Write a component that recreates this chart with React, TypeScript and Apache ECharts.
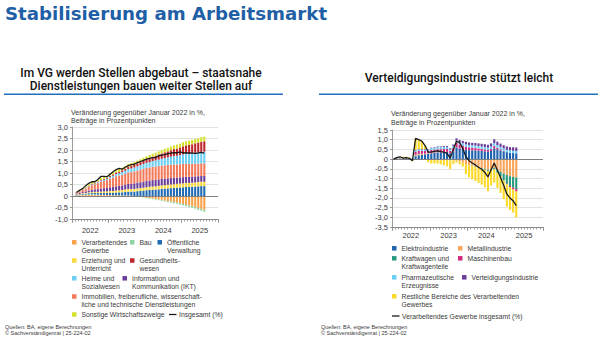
import React, { useEffect, useRef } from 'react';
import * as echarts from 'echarts';

const YEARS = ['2022', '2023', '2024', '2025'];
const MONTH_NUMS = ['01', '02', '03', '04', '05', '06', '07', '08', '09', '10', '11', '12'];
const MONTHS = YEARS.flatMap((y) => MONTH_NUMS.map((m) => `${y}-${m}`));

// ---------- Left chart: Feb 2022 - Aug 2025 (Jan 2022 empty) ----------
const L_VERARB = [0.02,0.03,0.04,0.04,0.05,0.05,0.05,0.05,0.04,0.04,0.04,0.04,0.03,0.03,0.03,0.02,0.02,0.02,0.01,0.0,-0.01,-0.03,-0.05,-0.08,-0.09,-0.11,-0.13,-0.15,-0.17,-0.2,-0.22,-0.24,-0.27,-0.29,-0.32,-0.35,-0.38,-0.41,-0.44,-0.48,-0.52,-0.56,-0.6];
const L_BAU = [0.01,0.01,0.02,0.02,0.02,0.02,0.02,0.01,0.01,0.01,0.0,0.0,0.0,-0.01,-0.01,-0.01,-0.01,-0.01,-0.01,-0.02,-0.02,-0.02,-0.02,-0.02,-0.03,-0.03,-0.03,-0.03,-0.04,-0.04,-0.04,-0.05,-0.05,-0.05,-0.06,-0.06,-0.06,-0.07,-0.07,-0.07,-0.08,-0.08,-0.08];
const L_OEFF = [0.02,0.03,0.03,0.04,0.05,0.06,0.06,0.07,0.08,0.08,0.09,0.10,0.11,0.12,0.13,0.14,0.16,0.17,0.18,0.19,0.21,0.22,0.23,0.25,0.26,0.27,0.28,0.29,0.31,0.32,0.33,0.34,0.35,0.36,0.37,0.38,0.39,0.39,0.40,0.41,0.42,0.43,0.43];
const L_ERZ = [0.02,0.02,0.03,0.03,0.04,0.04,0.05,0.05,0.06,0.07,0.07,0.08,0.08,0.09,0.09,0.10,0.10,0.11,0.11,0.12,0.12,0.12,0.13,0.13,0.14,0.14,0.14,0.15,0.15,0.15,0.16,0.16,0.16,0.17,0.17,0.17,0.18,0.18,0.18,0.18,0.19,0.19,0.19];
const L_IKT = [0.03,0.04,0.05,0.07,0.08,0.10,0.11,0.12,0.13,0.14,0.15,0.16,0.17,0.18,0.19,0.20,0.21,0.22,0.23,0.24,0.25,0.26,0.26,0.27,0.27,0.28,0.28,0.28,0.28,0.28,0.28,0.28,0.28,0.27,0.27,0.27,0.27,0.26,0.26,0.26,0.25,0.25,0.25];
const L_IMMO = [0.05,0.08,0.10,0.13,0.16,0.20,0.22,0.26,0.30,0.32,0.34,0.38,0.41,0.44,0.45,0.46,0.48,0.50,0.51,0.52,0.53,0.55,0.56,0.57,0.57,0.58,0.58,0.58,0.58,0.58,0.58,0.58,0.58,0.57,0.57,0.57,0.57,0.56,0.56,0.56,0.55,0.55,0.55];
const L_HEIME = [0.01,0.01,0.01,0.02,0.02,0.03,0.03,0.04,0.05,0.05,0.06,0.07,0.08,0.09,0.10,0.12,0.13,0.15,0.16,0.17,0.18,0.19,0.21,0.22,0.23,0.25,0.27,0.28,0.30,0.32,0.33,0.35,0.37,0.38,0.40,0.42,0.43,0.45,0.46,0.47,0.49,0.50,0.51];
const L_GESUND = [0.01,0.01,0.01,0.01,0.02,0.02,0.02,0.03,0.03,0.04,0.04,0.05,0.06,0.07,0.07,0.08,0.09,0.10,0.11,0.12,0.13,0.14,0.15,0.17,0.18,0.19,0.20,0.22,0.23,0.25,0.26,0.28,0.30,0.31,0.33,0.35,0.36,0.38,0.39,0.41,0.42,0.44,0.45];
const L_SONST = [0.02,0.04,0.05,0.06,0.07,0.08,0.07,0.08,0.10,0.09,0.08,0.10,0.11,0.12,0.12,0.11,0.12,0.12,0.12,0.12,0.12,0.12,0.12,0.12,0.13,0.13,0.13,0.14,0.14,0.15,0.15,0.16,0.16,0.17,0.17,0.18,0.18,0.18,0.19,0.19,0.19,0.20,0.20];
const L_TOTAL = [0.15,0.25,0.32,0.45,0.55,0.62,0.62,0.72,0.85,0.85,0.84,0.95,1.05,1.15,1.2,1.17,1.25,1.32,1.36,1.38,1.45,1.5,1.55,1.6,1.64,1.67,1.67,1.75,1.78,1.8,1.84,1.86,1.88,1.88,1.92,1.88,1.87,1.87,1.86,1.85,1.87,1.9,1.86];

// ---------- Right chart: Jan 2022 - Apr 2025 ----------
const R_ELEKTRO = [0,0.03,0.04,0.03,0.04,0.03,0.03,0.15,0.2,0.22,0.25,0.28,0.3,0.32,0.34,0.35,0.36,0.37,0.3,0.4,0.6,0.55,0.52,0.48,0.46,0.45,0.44,0.43,0.42,0.4,0.38,0.42,0.55,0.5,0.45,0.4,0.36,0.33,0.31,0.3];
const R_METALL = [0,0.01,0.02,0.01,0.01,0.0,-0.02,0.05,0.05,0.04,0.03,0.02,0.02,0.01,0.0,-0.01,-0.02,-0.03,-0.05,-0.06,-0.08,-0.12,-0.18,-0.25,-0.3,-0.33,-0.38,-0.42,-0.46,-0.5,-0.55,-0.5,-0.45,-0.55,-0.65,-0.75,-0.82,-0.88,-0.92,-0.95];
const R_KFZ = [0,0.01,0.0,-0.03,-0.03,-0.04,-0.05,0.02,0.02,0.01,0.0,0.0,0.01,0.01,0.01,0.0,0.0,0.0,-0.01,0.0,0.01,0.0,0.0,-0.01,-0.01,-0.02,-0.02,-0.03,-0.04,-0.05,-0.06,-0.05,-0.08,-0.15,-0.25,-0.35,-0.45,-0.5,-0.55,-0.6];
const R_MASCH = [0,0.01,0.02,0.01,0.01,0.01,0.0,0.15,0.15,0.15,0.14,0.12,0.14,0.15,0.16,0.16,0.16,0.15,0.12,0.18,0.22,0.2,0.18,0.16,0.15,0.14,0.13,0.12,0.11,0.1,0.09,0.1,0.12,0.08,0.05,0.02,-0.03,-0.06,-0.09,-0.12];
const R_PHARMA = [0,0.01,0.01,0.01,0.01,0.01,0.01,0.08,0.08,0.08,0.08,0.08,0.09,0.1,0.1,0.1,0.1,0.1,0.09,0.1,0.12,0.12,0.12,0.12,0.12,0.12,0.12,0.12,0.12,0.12,0.12,0.13,0.15,0.14,0.13,0.13,0.12,0.12,0.12,0.12];
const R_VERTEID = [0,0.0,0.0,0.0,0.0,0.0,0.0,0.02,0.02,0.02,0.02,0.02,0.03,0.03,0.04,0.04,0.05,0.05,0.05,0.07,0.12,0.12,0.12,0.13,0.13,0.13,0.14,0.14,0.14,0.15,0.15,0.16,0.2,0.18,0.17,0.17,0.17,0.17,0.18,0.18];
const R_REST = [0,0.01,0.03,0.06,0.05,0.03,-0.05,0.6,0.48,0.41,0.18,-0.16,-0.23,-0.22,-0.23,-0.26,-0.29,-0.34,-0.45,-0.19,-0.1,-0.15,-0.21,-0.51,-0.63,-0.69,-0.73,-0.78,-0.81,-0.9,-1.05,-0.81,-0.69,-0.78,-0.85,-0.97,-1.15,-1.18,-1.2,-1.33];
const R_TOTAL = [0,0.08,0.12,0.05,0.08,0.04,-0.08,1.07,1.0,0.93,0.7,0.36,0.36,0.4,0.42,0.38,0.36,0.3,0.05,0.5,0.92,0.85,0.55,0.12,-0.08,-0.2,-0.3,-0.42,-0.52,-0.68,-0.92,-0.55,-0.2,-0.58,-0.95,-1.35,-1.8,-2.0,-2.15,-2.4];

const FONT = 'Liberation Sans, Arial, sans-serif';
const TXT = '#3a3a3a';
const LINE_COLOR = '#1a1a1a';
const LH = 8;
const LEG_FS = 6.8;

const fmtNum = (v: number) => (v === 0 ? '0' : v.toFixed(1).replace('.', ','));

export default function App() {
  const ref = useRef<HTMLDivElement>(null);
  useEffect(() => {
    document.body.style.margin = '0';
    if (!ref.current) return;
    const chart = echarts.init(ref.current, undefined, { renderer: 'svg' });

    const leftBars = [
      { name: 'Verarbeitendes Gewerbe', data: L_VERARB, color: '#F7A24B' },
      { name: 'Bau', data: L_BAU, color: '#8ED3A0' },
      { name: 'Öffentliche Verwaltung', data: L_OEFF, color: '#1F6AB3' },
      { name: 'Erziehung und Unterricht', data: L_ERZ, color: '#F9D93B' },
      { name: 'Information und Kommunikation (IKT)', data: L_IKT, color: '#6A3D9A' },
      { name: 'Immobilien, freiberufliche, wissenschaftliche und technische Dienstleistungen', data: L_IMMO, color: '#F27A5A' },
      { name: 'Heime und Sozialwesen', data: L_HEIME, color: '#6DCFF6' },
      { name: 'Gesundheitswesen', data: L_GESUND, color: '#C0272D' },
      { name: 'Sonstige Wirtschaftszweige', data: L_SONST, color: '#D4E02B' },
    ];
    const rightBars = [
      { name: 'Elektroindustrie', data: R_ELEKTRO, color: '#1F63AE' },
      { name: 'Metallindustrie', data: R_METALL, color: '#F9A65A' },
      { name: 'Kraftwagen und Kraftwagenteile', data: R_KFZ, color: '#2A9A7E' },
      { name: 'Maschinenbau', data: R_MASCH, color: '#D4287E' },
      { name: 'Pharmazeutische Erzeugnisse', data: R_PHARMA, color: '#6DCFF6' },
      { name: 'Verteidigungsindustrie', data: R_VERTEID, color: '#6A3D9A' },
      { name: 'Restliche Bereiche des Verarbeitenden Gewerbes', data: R_REST, color: '#FCD92B' },
    ];

    const LABELS: Record<string, string> = {
      'Verarbeitendes Gewerbe': 'Verarbeitendes\nGewerbe',
      'Öffentliche Verwaltung': 'Öffentliche\nVerwaltung',
      'Erziehung und Unterricht': 'Erziehung und\nUnterricht',
      'Gesundheitswesen': 'Gesundheits-\nwesen',
      'Heime und Sozialwesen': 'Heime und\nSozialwesen',
      'Information und Kommunikation (IKT)': 'Information und\nKommunikation (IKT)',
      'Immobilien, freiberufliche, wissenschaftliche und technische Dienstleistungen':
        'Immobilien, freiberufliche, wissenschaft-\nliche und technische Dienstleistungen',
      'Kraftwagen und Kraftwagenteile': 'Kraftwagen und\nKraftwagenteile',
      'Pharmazeutische Erzeugnisse': 'Pharmazeutische\nErzeugnisse',
      'Restliche Bereiche des Verarbeitenden Gewerbes': 'Restliche Bereiche des Verarbeitenden\nGewerbes',
    };

    // For two-line entries a blank first line keeps the marker level with the first text line.
    const leg = (name: string, x: number, yc: number) => {
      const two = !!LABELS[name];
      return {
        data: [{ name, icon: 'rect' }],
        left: x,
        top: two ? yc - 1.5 * LH : yc - LH / 2,
        padding: 0,
        itemGap: 0,
        itemWidth: 4.5,
        itemHeight: 4.5,
        selectedMode: false,
        formatter: (n: string) => (LABELS[n] ? ' \n' + LABELS[n] : n),
        textStyle: {
          fontSize: LEG_FS,
          fontFamily: FONT,
          color: TXT,
          lineHeight: LH,
        },
      };
    };

    const legends = [
      leg('Verarbeitendes Gewerbe', 72, 242.3),
      leg('Bau', 130, 242.3),
      leg('Öffentliche Verwaltung', 157.5, 242.3),
      leg('Erziehung und Unterricht', 72, 260.5),
      leg('Gesundheitswesen', 130, 260.5),
      leg('Heime und Sozialwesen', 72, 278.3),
      leg('Information und Kommunikation (IKT)', 122.5, 278.3),
      leg('Immobilien, freiberufliche, wissenschaftliche und technische Dienstleistungen', 72, 296.5),
      leg('Sonstige Wirtschaftszweige', 72, 314.5),
      leg('Elektroindustrie', 392, 248.3),
      leg('Metallindustrie', 458, 248.3),
      leg('Kraftwagen und Kraftwagenteile', 392, 258.3),
      leg('Maschinenbau', 458, 258.3),
      leg('Pharmazeutische Erzeugnisse', 392, 277.3),
      leg('Verteidigungsindustrie', 462, 277.3),
      leg('Restliche Bereiche des Verarbeitenden Gewerbes', 392, 296.3),
    ];

    const monthAxis = (gridIndex: number) => ({
      type: 'category',
      gridIndex,
      data: MONTHS,
      position: 'bottom',
      axisLine: { show: true, onZero: false, lineStyle: { color: '#8c8c8c', width: 1 } },
      axisTick: { show: true, interval: 0, length: 2.5, lineStyle: { color: '#8c8c8c', width: 0.8 } },
      axisLabel: { show: false },
      splitLine: { show: false },
    });
    const yearAxis = (gridIndex: number, margin: number) => ({
      type: 'category',
      gridIndex,
      data: YEARS,
      position: 'bottom',
      axisLine: { show: false, onZero: false },
      axisTick: { show: true, interval: 0, length: 4, lineStyle: { color: '#8c8c8c', width: 0.8 } },
      axisLabel: { show: true, fontSize: 7.5, fontFamily: FONT, color: TXT, margin },
      splitLine: { show: false },
    });
    const valAxis = (gridIndex: number, min: number, max: number) => ({
      type: 'value',
      gridIndex,
      min,
      max,
      interval: 0.5,
      axisLine: { show: true, lineStyle: { color: '#9a9a9a', width: 1 } },
      axisTick: { show: true, length: 2, lineStyle: { color: '#9a9a9a' } },
      axisLabel: { fontSize: 7.5, fontFamily: FONT, color: TXT, margin: 4, formatter: fmtNum },
      splitLine: { show: true, lineStyle: { color: '#dadada', width: 0.8 } },
    });

    const zeroLine = {
      silent: true,
      symbol: ['none', 'none'],
      label: { show: false },
      lineStyle: { color: '#808080', type: 'solid', width: 1 },
      data: [{ yAxis: 0 }],
    };

    const series: any[] = [];
    leftBars.forEach((b) =>
      series.push({
        type: 'bar',
        name: b.name,
        xAxisIndex: 0,
        yAxisIndex: 0,
        stack: 'left',
        barCategoryGap: '32%',
        itemStyle: { color: b.color },
        data: ['-', ...b.data],
      })
    );
    series.push({
      type: 'line',
      name: 'Insgesamt (%)',
      xAxisIndex: 0,
      yAxisIndex: 0,
      showSymbol: false,
      symbol: 'none',
      color: LINE_COLOR,
      lineStyle: { color: LINE_COLOR, width: 1.3 },
      data: ['-', ...L_TOTAL],
      markLine: zeroLine,
      z: 5,
    });
    rightBars.forEach((b) =>
      series.push({
        type: 'bar',
        name: b.name,
        xAxisIndex: 2,
        yAxisIndex: 1,
        stack: 'right',
        barCategoryGap: '32%',
        itemStyle: { color: b.color },
        data: b.data,
      })
    );
    series.push({
      type: 'line',
      name: 'Verarbeitendes Gewerbe insgesamt (%)',
      xAxisIndex: 2,
      yAxisIndex: 1,
      showSymbol: false,
      symbol: 'none',
      color: LINE_COLOR,
      lineStyle: { color: LINE_COLOR, width: 1.3 },
      data: R_TOTAL,
      markLine: zeroLine,
      z: 5,
    });

    const t = (text: string, x: number, y: number, extra: any = {}) => ({
      type: 'text',
      x,
      y,
      silent: true,
      style: {
        text,
        fontSize: 7,
        fontFamily: FONT,
        fill: TXT,
        align: 'left',
        verticalAlign: 'middle',
        ...extra,
      },
    });
    const dash = (x: number, y: number) => ({
      type: 'line',
      silent: true,
      shape: { x1: x, y1: y, x2: x + 7.5, y2: y },
      style: { stroke: LINE_COLOR, lineWidth: 1.3 },
    });

    const SUB = {
      fontSize: 12,
      lineHeight: 11,
      fontWeight: 500,
      fontFamily: 'Roboto, Liberation Sans, sans-serif',
      fill: '#111',
      align: 'center',
    };

    const graphic: any[] = [
      t('Stabilisierung am Arbeitsmarkt', 5, 13, {
        fontSize: 18.2,
        fontWeight: 'bold',
        fontFamily: 'DejaVu Sans, sans-serif',
        fill: '#1F5FA6',
      }),
      t('Im VG werden Stellen abgebaut – staatsnahe', 141, 73, SUB),
      t('Dienstleistungen bauen weiter Stellen auf', 141, 86, SUB),
      t('Verteidigungsindustrie stützt leicht', 459, 77.5, SUB),
      {
        type: 'line',
        silent: true,
        shape: { x1: 4, y1: 94.3, x2: 283, y2: 94.3 },
        style: { stroke: '#1F6FBF', lineWidth: 1.6 },
      },
      {
        type: 'line',
        silent: true,
        shape: { x1: 319, y1: 94.3, x2: 598, y2: 94.3 },
        style: { stroke: '#1F6FBF', lineWidth: 1.6 },
      },
      t('Veränderung gegenüber Januar 2022 in %,', 71, 112.7),
      t('Beiträge in Prozentpunkten', 71, 120.5),
      t('Veränderung gegenüber Januar 2022 in %,', 391, 113.3),
      t('Beiträge in Prozentpunkten', 391, 122.3),
      // legend entries for the two lines
      dash(169, 314.5),
      t('Insgesamt (%)', 179, 314.5, { fontSize: LEG_FS }),
      dash(392, 316),
      t('Verarbeitendes Gewerbe insgesamt (%)', 402, 316, { fontSize: LEG_FS }),
      t('Quellen: BA, eigene Berechnungen', 5, 326.5, { fontSize: 5.5 }),
      t('© Sachverständigenrat | 25-224-02', 5, 333, { fontSize: 5.5 }),
      t('Quellen: BA, eigene Berechnungen', 321, 326.5, { fontSize: 5.5 }),
      t('© Sachverständigenrat | 25-224-02', 321, 333, { fontSize: 5.5 }),
    ];

    chart.setOption({
      animation: false,
      backgroundColor: '#ffffff',
      textStyle: { fontFamily: FONT },
      grid: [
        { left: 72, top: 127, width: 146, height: 92, containLabel: false },
        { left: 392, top: 130, width: 151, height: 97, containLabel: false },
      ],
      xAxis: [monthAxis(0), yearAxis(0, 7.5), monthAxis(1), yearAxis(1, 4.5)],
      yAxis: [valAxis(0, -1, 3), valAxis(1, -3.5, 1.5)],
      legend: legends,
      series,
      graphic,
    });

    return () => chart.dispose();
  }, []);
  return <div ref={ref} style={{ width: 600, height: 347 }} />;
}
